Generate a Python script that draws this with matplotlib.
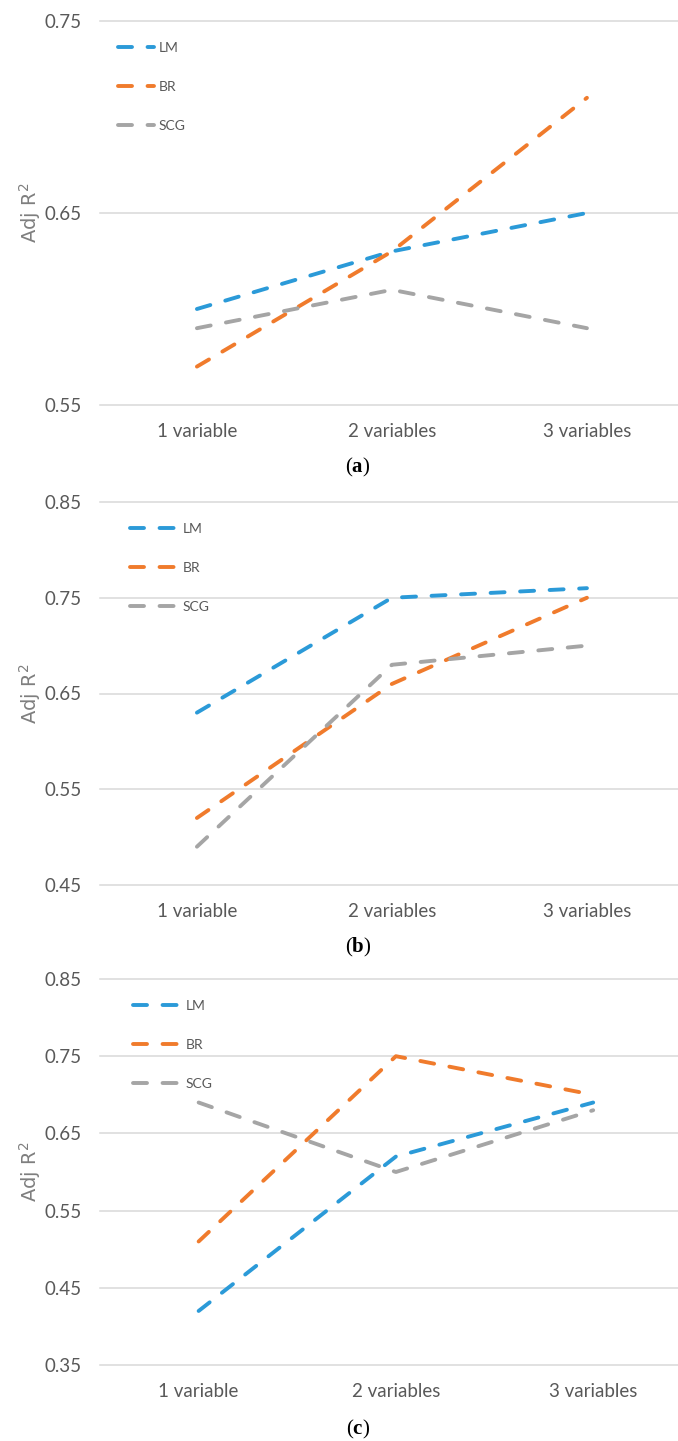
import matplotlib
matplotlib.use("Agg")
import matplotlib.pyplot as plt

# categorias do eixo x e nomes das series
categorias = ["1 variable", "2 variables", "3 variables"]
series = ["LM", "BR", "SCG"]

# (a)
lm_a = [0.60, 0.63, 0.65]
br_a = [0.57, 0.63, 0.71]
scg_a = [0.59, 0.61, 0.59]

# (b)
lm_b = [0.63, 0.75, 0.76]
br_b = [0.52, 0.66, 0.75]
scg_b = [0.49, 0.68, 0.70]

# (c)
lm_c = [0.42, 0.62, 0.69]
br_c = [0.51, 0.75, 0.70]
scg_c = [0.69, 0.60, 0.68]

ticks_a = [0.55, 0.65, 0.75]
ticks_b = [0.45, 0.55, 0.65, 0.75, 0.85]
ticks_c = [0.35, 0.45, 0.55, 0.65, 0.75, 0.85]

letras = ["a", "b", "c"]

cores = ["#2B9AD8", "#F07B2C", "#A5A5A5"]
cinza_texto = "#595959"

plt.rcParams["mathtext.fontset"] = "custom"
plt.rcParams["mathtext.rm"] = "Liberation Serif"
plt.rcParams["mathtext.bf"] = "Liberation Serif:bold"
plt.rcParams["mathtext.sf"] = "DejaVu Sans"

W, H = 678, 1441
fig = plt.figure(figsize=(W / 100, H / 100), dpi=100)


def eixo_px(left, top, right, bottom):
    """cria eixo a partir de coordenadas em pixels"""
    return fig.add_axes([left / W, 1 - bottom / H, (right - left) / W, (bottom - top) / H])


def painel(box, dados, ticks, xlim, leg_xy, handle_len, text_pad, letra, cap_y):
    ax = eixo_px(*box)
    x = list(range(len(categorias)))
    for valores, nome, cor in zip(dados, series, cores):
        ax.plot(x, valores, color=cor, lw=2.8, label=nome,
                dashes=(3.6, 4.0), dash_capstyle="round", solid_capstyle="round")

    ax.set_xlim(*xlim)
    ax.set_ylim(ticks[0], ticks[-1])
    ax.set_yticks(ticks)
    ax.set_yticklabels([f"{t:.2f}" for t in ticks])
    ax.set_xticks(x)
    ax.set_xticklabels(categorias)
    ax.tick_params(length=0, labelsize=13.5, labelcolor=cinza_texto)
    ax.tick_params(axis="y", pad=13)
    ax.tick_params(axis="x", pad=13)
    for lab in ax.get_xticklabels() + ax.get_yticklabels():
        lab.set_fontfamily("Lato")
    ax.grid(axis="y", color="#D9D9D9", lw=1.1)
    for gl in ax.get_ygridlines():
        gl.set_clip_on(False)
    ax.set_axisbelow(True)
    for s in ax.spines.values():
        s.set_visible(False)

    leg = ax.legend(loc="upper left", bbox_to_anchor=(leg_xy[0] / W, 1 - leg_xy[1] / H),
                    bbox_transform=fig.transFigure, frameon=False, borderpad=0,
                    borderaxespad=0, handlelength=handle_len, handletextpad=text_pad,
                    labelspacing=1.95, prop={"family": "Lato", "size": 10})
    for t in leg.get_texts():
        t.set_color(cinza_texto)

    # rotulo do eixo y
    meio = (box[1] + box[3]) / 2
    fig.text(30 / W, 1 - meio / H, "Adj R$^{\\mathsf{2}}$", rotation=90, ha="center",
             va="center", fontsize=14, color="#7F7F7F", family="DejaVu Sans")

    # legenda do painel
    fig.text(358 / W, 1 - cap_y / H, "$\\mathrm{(}\\mathbf{" + letra + "}\\mathrm{)}$",
             ha="center", va="center", fontsize=15, color="black")
    return ax


painel((100, 21, 678, 405), [lm_a, br_a, scg_a], ticks_a, (-0.497, 2.467),
       (118, 42), 2.6, 0.3, letras[0], 467)
painel((100, 502, 678, 885), [lm_b, br_b, scg_b], ticks_b, (-0.497, 2.467),
       (130, 523), 3.2, 0.6, letras[1], 947)
painel((100, 979, 678, 1365), [lm_c, br_c, scg_c], ticks_c, (-0.5, 2.43),
       (133, 1000), 3.2, 0.6, letras[2], 1429)

plt.savefig("out.png", dpi=100)
